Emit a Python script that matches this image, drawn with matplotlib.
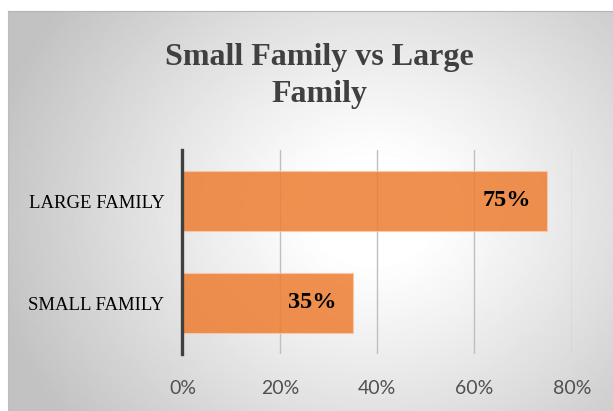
import numpy as np
import matplotlib.pyplot as plt
from matplotlib.ticker import FuncFormatter

# family size shares
categories = ["SMALL FAMILY", "LARGE FAMILY"]
shares = [35, 75]
ticks = [0, 20, 40, 60, 80]

W, H = 613, 411
fig = plt.figure(figsize=(W / 100, H / 100), dpi=100)
fig.patch.set_facecolor("white")

# chart box with a soft radial grey gradient
bx0, by0 = 8, 11
bg = fig.add_axes([bx0 / W, 0, (W - bx0) / W, (H - by0) / H])
yy, xx = np.mgrid[0:H - by0, 0:W - bx0]
cx, cy = 365, 200
r = np.hypot((xx - cx) / 1.15, yy - cy)
v = 1 - 0.24 * np.clip((r - 50) / 290, 0, 1) ** 1.1
bg.imshow(v, cmap="gray", vmin=0, vmax=1, aspect="auto", interpolation="bilinear")
bg.set_xticks([])
bg.set_yticks([])
for side in ["right", "bottom"]:
    bg.spines[side].set_visible(False)
bg.spines["top"].set_color("#b5b5b5")
bg.spines["left"].set_color("#bdbdbd")

fig.text(319 / W, 1 - 76 / H, "Small Family vs Large\nFamily", ha="center", va="center",
         fontsize=23, fontweight="bold", family="Liberation Serif", color="#404040",
         linespacing=1.38)

ax = fig.add_axes([182.5 / W, 57 / H, 389.2 / W, 204 / H])
ax.patch.set_alpha(0)
ax.barh(categories, shares, height=0.59, color="#ED7D31", alpha=0.85,
        edgecolor="#F7C9A8", linewidth=0.8, zorder=2)
ax.set_xlim(0, 80)
ax.set_ylim(-0.5, 1.5)
ax.set_xticks(ticks)
ax.xaxis.set_major_formatter(FuncFormatter(lambda x, p: f"{x:.0f}%"))
ax.grid(axis="x", color="#bfbfbf", linewidth=1.0, zorder=0)
ax.set_axisbelow(True)
for side in ["top", "right", "bottom"]:
    ax.spines[side].set_visible(False)
ax.spines["left"].set_color("#404040")
ax.spines["left"].set_linewidth(2.4)
ax.spines["left"].set_zorder(3)
ax.tick_params(axis="x", length=0, pad=19, labelsize=14, labelcolor="#505050")
ax.tick_params(axis="y", length=0, pad=13, labelsize=13.5)
for lbl in ax.get_xticklabels():
    lbl.set_family("Lato")
for lbl in ax.get_yticklabels():
    lbl.set_family("Liberation Serif")

for i, s in enumerate(shares):
    ax.annotate(f"{s}%", (s, i), xytext=(-12, 0), textcoords="offset points",
                ha="right", va="center", fontsize=17.5, fontweight="bold",
                family="Liberation Serif", color="black", zorder=4)

fig.savefig("out.png", dpi=100)
